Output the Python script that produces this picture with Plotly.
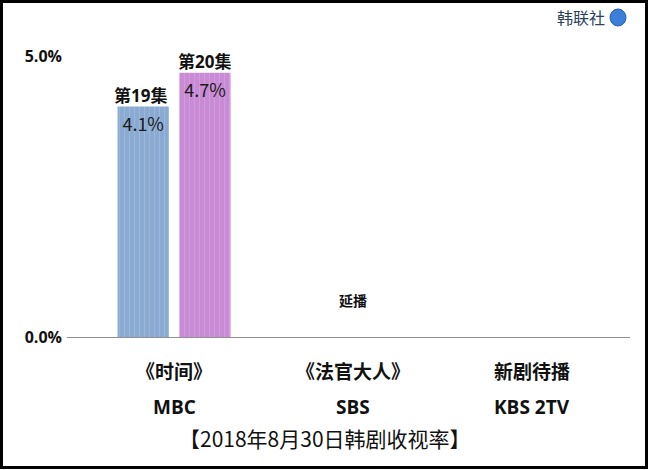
import plotly.graph_objects as go

# ---- data ----
show_names = ["《时间》", "《法官大人》", "新剧待播"]
channels = ["MBC", "SBS", "KBS 2TV"]
episode_labels = ["第19集", "第20集"]
ep19_values = [4.1, None, None]
ep20_values = [4.7, None, None]
note_texts = ["", "延播", ""]
y_ticks = [0.0, 5.0]
title_text = "【2018年8月30日韩剧收视率】"
source_text = "韩联社"

x_pos = [0, 1, 2]

W, H = 648, 470
L, R, T, B = 67, 18, 56, 133
pw, ph = W - L - R, H - T - B

def px_x(p):
    return (p - L) / pw

def px_y(p):
    return (H - B - p) / ph

cjk = "Noto Sans CJK SC"
latin_bold = "Open Sans, Noto Sans CJK SC"

fig = go.Figure()
series = [(ep19_values, episode_labels[0], "#8aaad2"),
          (ep20_values, episode_labels[1], "#c98ad6")]
for vals, name, col in series:
    fig.add_trace(go.Bar(
        x=x_pos, y=vals, name=name,
        marker=dict(color=col, line=dict(width=0),
                    pattern=dict(shape="|", fgcolor="white", fgopacity=0.15,
                                 size=5, solidity=0.2, fillmode="overlay")),
        text=[f"{v:.1f}%" if v is not None else "" for v in vals],
        textposition="inside", insidetextanchor="end",
        textfont=dict(family=cjk, size=18, color="#1a1a1a"),
        cliponaxis=False, showlegend=False,
    ))

annotations = []
# episode labels above bars
offsets = [-0.19, 0.17]
for vals, lab, off in zip([ep19_values, ep20_values], episode_labels, offsets):
    for xi, v in zip(x_pos, vals):
        if v is not None:
            annotations.append(dict(x=xi + off, y=v, xref="x", yref="y", text=f"<b>{lab}</b>",
                                    showarrow=False, yanchor="bottom", yshift=-2,
                                    font=dict(family=latin_bold, size=17, color="#111")))
# notes
for xi, t in zip(x_pos, note_texts):
    if t:
        annotations.append(dict(x=xi, y=0.66, xref="x", yref="y", text=f"<b>{t}</b>",
                                showarrow=False, yanchor="middle",
                                font=dict(family=cjk, size=14, color="#111")))
# category labels (two lines)
for xi, s, c in zip(x_pos, show_names, channels):
    annotations.append(dict(x=xi, y=px_y(370), xref="x", yref="paper", text=f"<b>{s}</b>",
                            showarrow=False, yanchor="middle",
                            font=dict(family=cjk, size=19, color="#111")))
    annotations.append(dict(x=xi, y=px_y(407), xref="x", yref="paper", text=f"<b>{c}</b>",
                            showarrow=False, yanchor="middle",
                            font=dict(family=latin_bold, size=19, color="#111")))
# title
annotations.append(dict(x=px_x(325), y=px_y(438), xref="paper", yref="paper", text=title_text,
                        showarrow=False, yanchor="middle",
                        font=dict(family=cjk, size=21, color="#111")))
# source
annotations.append(dict(x=px_x(607), y=px_y(17), xref="paper", yref="paper", text=source_text,
                        showarrow=False, xanchor="right", yanchor="middle",
                        font=dict(family=cjk, size=16, color="#2b3f5c")))

shapes = [
    dict(type="rect", xref="paper", yref="paper",
         x0=px_x(1.5), x1=px_x(646.5), y0=px_y(467.5), y1=px_y(1.5),
         line=dict(color="black", width=3), fillcolor="rgba(0,0,0,0)"),
    dict(type="circle", xref="paper", yref="paper",
         x0=px_x(610), x1=px_x(626), y0=px_y(26), y1=px_y(9),
         line=dict(color="#1f5fb5", width=1), fillcolor="#3d7fd6"),
]

fig.update_layout(
    width=W, height=H,
    margin=dict(l=L, r=R, t=T, b=B),
    paper_bgcolor="white", plot_bgcolor="white",
    barmode="group", bargap=0.31, bargroupgap=0.17,
    annotations=annotations, shapes=shapes,
    xaxis=dict(range=[-0.598, 2.547], showticklabels=False, showgrid=False,
               zeroline=False, showline=False, fixedrange=True),
    yaxis=dict(range=[0, 5], tickvals=y_ticks, ticktext=[f"<b>{v:.1f}%</b>" for v in y_ticks],
               tickfont=dict(family="Open Sans", size=16, color="#111"),
               showgrid=True, gridcolor="#a6a6a6", gridwidth=1,
               zeroline=True, zerolinecolor="#909090", zerolinewidth=1,
               ticks="", ticklabelstandoff=4, showline=False),
)

fig.write_html("out.html", config={"displayModeBar": False},
               post_script="document.body.style.margin='0';document.body.style.overflow='hidden';")
